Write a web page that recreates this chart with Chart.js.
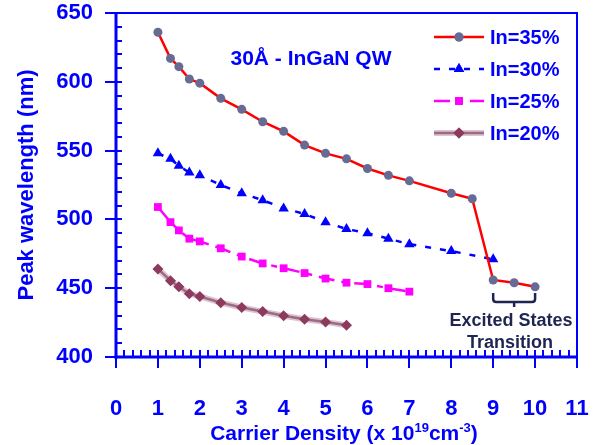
<!DOCTYPE html>
<html>
<head>
<meta charset="utf-8">
<script src="https://cdn.jsdelivr.net/npm/chart.js@4.4.0/dist/chart.umd.min.js"></script>
<style>
  html, body { margin: 0; padding: 0; background: #fff; }
  #wrap { width: 599px; height: 445px; }
</style>
</head>
<body>
<div id="wrap"><canvas id="peakChart" width="599" height="445"></canvas></div>
<script>
// carrier density (x 10^19 cm^-3) and peak wavelength (nm)
const density35 = [1, 1.3, 1.5, 1.75, 2, 2.5, 3, 3.5, 4, 4.5, 5, 5.5, 6, 6.5, 7, 8, 8.5, 9, 9.5, 10];
const wave35    = [636, 617, 611, 602, 599, 588, 580, 571, 564, 554, 548, 544, 537, 532, 528, 519, 515, 456, 454, 451];

const density30 = [1, 1.3, 1.5, 1.75, 2, 2.5, 3, 3.5, 4, 4.5, 5, 5.5, 6, 6.5, 7, 8, 9];
const wave30    = [548, 544, 539, 534, 532, 525, 519, 514, 508, 504, 498, 493, 490, 486, 482, 477, 471];

const density25 = [1, 1.3, 1.5, 1.75, 2, 2.5, 3, 3.5, 4, 4.5, 5, 5.5, 6, 6.5, 7];
const wave25    = [509, 498, 492, 486, 484, 479, 473, 468, 464.5, 461, 457, 454, 453, 450, 447.5];

const density20 = [1, 1.3, 1.5, 1.75, 2, 2.5, 3, 3.5, 4, 4.5, 5, 5.5];
const wave20    = [464, 455.5, 451, 446, 444, 439.5, 436, 433, 430, 427.5, 425.5, 423];

const legendLabels = ["In=35%", "In=30%", "In=25%", "In=20%"];
const xTicks = [0, 1, 2, 3, 4, 5, 6, 7, 8, 9, 10, 11];
const yTicks = [400, 450, 500, 550, 600, 650];

const BLUE = "#0000ff";
const NAVY = "#1d2550";
const HALO = "rgba(214,180,198,0.8)";
const FONT = "'Liberation Sans', Arial, sans-serif";

function pts(xs, ys) { return xs.map((x, i) => ({ x, y: ys[i] })); }

const styles = [
  { color: "#ff0000", width: 2.5, dash: [], point: "circle", pointColor: "#676b94", r: 4.5 },
  { color: BLUE, width: 2.5, dash: [6, 9], point: "triangle", pointColor: BLUE, r: 6 },
  { color: "#ff00ff", width: 2.5, dash: [16, 7, 6, 7], point: "rect", pointColor: "#ff00ff", r: 5.5 },
  { color: "#9c6b84", width: 2.5, dash: [], point: "rectRot", pointColor: "#8c3a5e", r: 5.5 }
];

function ds(label, data, s) {
  return {
    label, data,
    borderColor: s.color, borderWidth: s.width, borderDash: s.dash,
    pointStyle: s.point, pointRadius: s.r, pointBackgroundColor: s.pointColor,
    pointBorderColor: s.pointColor, pointBorderWidth: 0,
    tension: 0, fill: false
  };
}

// axis frame, ticks, legend and texts
const decoPlugin = {
  id: "deco",
  beforeDatasetsDraw(chart) {
    const { ctx, scales: { x, y } } = chart;
    const L = x.left, R = x.right, T = y.top, B = y.bottom;
    ctx.save();
    ctx.setLineDash([]);
    ctx.fillStyle = BLUE;
    ctx.fillRect(L, T - 1, R - L + 1, 2);      // top
    ctx.fillRect(R - 1, T - 1, 2, B - T + 1);  // right
    ctx.fillRect(L - 1.5, T - 1, 3, B - T + 2.5); // left axis
    ctx.fillRect(L - 1.5, B - 1.5, R - L + 2.5, 3); // bottom axis
    for (let v = 400; v <= 650; v += 10) {
      const py = Math.round(y.getPixelForValue(v));
      const major = v % 50 === 0;
      const x0 = L - (major ? 11 : 0);
      ctx.fillRect(x0, py - 1, L + 6 - x0, 2);
    }
    for (let i = 0; i <= 55; i++) {
      const px = Math.round(x.getPixelForValue(i * 0.2));
      const major = i % 5 === 0;
      ctx.fillRect(px - 1, B - 7, 2, 7 + (major ? 11 : 0));
    }
    ctx.restore();
  },
  afterDraw(chart) {
    const { ctx, scales: { x, y } } = chart;
    ctx.save();

    // legend
    styles.forEach((s, i) => {
      const ly = 37 + i * 32;
      if (i === 3) {
        ctx.strokeStyle = HALO;
        ctx.lineWidth = 6;
        ctx.beginPath(); ctx.moveTo(434, ly); ctx.lineTo(484, ly); ctx.stroke();
      }
      ctx.strokeStyle = s.color;
      ctx.lineWidth = s.width;
      ctx.setLineDash(s.dash);
      ctx.beginPath(); ctx.moveTo(434, ly); ctx.lineTo(484, ly); ctx.stroke();
      ctx.setLineDash([]);
      ctx.fillStyle = s.pointColor;
      Chart.helpers.drawPoint(ctx, { pointStyle: s.point, radius: s.r, borderWidth: 0 }, 459, ly);
      ctx.fill();
      ctx.fillStyle = BLUE;
      ctx.font = "bold 20px " + FONT;
      ctx.textAlign = "left";
      ctx.textBaseline = "middle";
      ctx.fillText(legendLabels[i], 490, ly + 1);
    });

    // inner title
    ctx.fillStyle = BLUE;
    ctx.font = "bold 21px " + FONT;
    ctx.textAlign = "center";
    ctx.textBaseline = "middle";
    ctx.fillText("30Å - InGaN QW", 311, 59);

    // bracket over the excited states points
    const bx0 = x.getPixelForValue(9), bx1 = x.getPixelForValue(10);
    const by = 302, bm = (bx0 + bx1) / 2;
    ctx.strokeStyle = NAVY;
    ctx.lineWidth = 2.5;
    ctx.beginPath();
    ctx.moveTo(bx0, by - 9);
    ctx.lineTo(bx0, by - 3);
    ctx.quadraticCurveTo(bx0, by, bx0 + 3, by);
    ctx.lineTo(bx1 - 3, by);
    ctx.quadraticCurveTo(bx1, by, bx1, by - 3);
    ctx.lineTo(bx1, by - 9);
    ctx.moveTo(bm, by); ctx.lineTo(bm, by + 5);
    ctx.stroke();
    ctx.fillStyle = NAVY;
    ctx.font = "bold 18px " + FONT;
    ctx.fillText("Excited States", 511, 321);
    ctx.fillText("Transition", 510, 343);

    // y title
    ctx.fillStyle = BLUE;
    ctx.font = "bold 22px " + FONT;
    ctx.save();
    ctx.translate(27, (y.top + y.bottom) / 2);
    ctx.rotate(-Math.PI / 2);
    ctx.fillText("Peak wavelength (nm)", 0, 0);
    ctx.restore();

    // x title with superscripts
    const parts = [
      ["Carrier Density (x 10", false], ["19", true], ["cm", false], ["-3", true], [")", false]
    ];
    const big = "bold 21px " + FONT, small = "bold 13px " + FONT;
    let total = 0;
    parts.forEach(p => { ctx.font = p[1] ? small : big; total += ctx.measureText(p[0]).width; });
    let tx = 344 - total / 2;
    ctx.textAlign = "left";
    ctx.textBaseline = "alphabetic";
    parts.forEach(p => {
      ctx.font = p[1] ? small : big;
      ctx.fillText(p[0], tx, p[1] ? 432 : 440);
      tx += ctx.measureText(p[0]).width;
    });
    ctx.restore();
  }
};

const datasets = [
  ds(legendLabels[0], pts(density35, wave35), styles[0]),
  ds(legendLabels[1], pts(density30, wave30), styles[1]),
  ds(legendLabels[2], pts(density25, wave25), styles[2]),
  Object.assign(ds("halo", pts(density20, wave20), styles[3]), {
    borderColor: HALO, borderWidth: 6, pointRadius: 0, order: 1
  }),
  Object.assign(ds(legendLabels[3], pts(density20, wave20), styles[3]), { order: 0 })
];

new Chart(document.getElementById("peakChart"), {
  type: "line",
  data: { datasets },
  options: {
    responsive: false,
    animation: false,
    layout: { padding: { left: 0, top: 13, right: 22, bottom: 0 } },
    plugins: { legend: { display: false }, tooltip: { enabled: false } },
    scales: {
      x: {
        type: "linear", min: 0, max: 11,
        afterBuildTicks: s => { s.ticks = xTicks.map(v => ({ value: v })); },
        afterFit: s => { s.height = 88; s.paddingLeft = 0; s.paddingRight = 0; },
        grid: { display: false, drawTicks: false },
        border: { display: false },
        ticks: {
          autoSkip: false, maxRotation: 0, padding: 39, color: BLUE,
          font: { family: FONT, size: 22, weight: "bold" }
        }
      },
      y: {
        type: "linear", min: 400, max: 650,
        afterBuildTicks: s => { s.ticks = yTicks.map(v => ({ value: v })); },
        afterFit: s => { s.width = 116; s.paddingTop = 0; s.paddingBottom = 0; },
        grid: { display: false, drawTicks: false },
        border: { display: false },
        ticks: {
          padding: 23, color: BLUE,
          font: { family: FONT, size: 22, weight: "bold" }
        }
      }
    }
  },
  plugins: [decoPlugin]
});
</script>
</body>
</html>
